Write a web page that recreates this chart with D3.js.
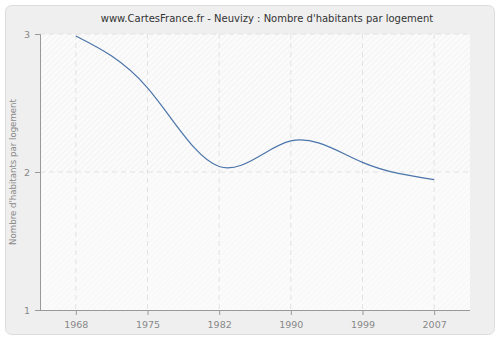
<!DOCTYPE html>
<html lang="fr">
<head>
  <meta charset="UTF-8">
  <title>Neuvizy : Nombre d'habitants par logement</title>
  <script src="https://d3js.org/d3.v7.min.js"></script>
  <style>
    body { margin: 0; background: #fff; }
    svg { display: block; font-family: "DejaVu Sans", Verdana, sans-serif; }
  </style>
</head>
<body>
<svg id="chart" width="500" height="340"></svg>
<script>
  // Données
  const annees = ["1968", "1975", "1982", "1990", "1999", "2007"];
  const habParLogement = [2.985, 2.61, 2.04, 2.225, 2.07, 1.945];
  const yTicks = [1, 2, 3];

  const margin = {top: 34, right: 30, bottom: 30, left: 40};
  const width = 500 - margin.left - margin.right;
  const height = 340 - margin.top - margin.bottom;

  const svg = d3.select("#chart");
  const defs = svg.append("defs");

  // Hachures du fond
  function hatch(id, color) {
    const p = defs.append("pattern")
      .attr("id", id)
      .attr("patternUnits", "userSpaceOnUse")
      .attr("width", 4).attr("height", 4)
      .attr("patternTransform", "rotate(45)");
    p.append("rect").attr("width", 4).attr("height", 4).attr("fill", "#fbfbfb");
    p.append("line").attr("x1", 0).attr("y1", 0).attr("x2", 0).attr("y2", 4)
      .attr("stroke", color).attr("stroke-width", 1);
  }
  hatch("hatchHaut", "#ececec");
  hatch("hatchBas", "#f3f3f3");

  // Cadre extérieur
  svg.append("rect")
    .attr("x", 5.5).attr("y", 5.5)
    .attr("width", 489).attr("height", 329)
    .attr("rx", 6)
    .attr("fill", "#efefef")
    .attr("stroke", "#dcdcdc");

  svg.append("text")
    .attr("x", 267).attr("y", 22)
    .attr("text-anchor", "middle")
    .attr("font-size", 10)
    .attr("fill", "#333")
    .text("www.CartesFrance.fr - Neuvizy : Nombre d'habitants par logement");

  const g = svg.append("g").attr("transform", `translate(${margin.left},${margin.top})`);

  const x = d3.scalePoint().domain(annees).range([0, width]).padding(0.5);
  const y = d3.scaleLinear().domain([1, 3]).range([height, 0]);

  g.append("rect").attr("width", width).attr("height", y(2))
    .attr("fill", "url(#hatchHaut)");
  g.append("rect").attr("y", y(2)).attr("width", width).attr("height", height - y(2))
    .attr("fill", "url(#hatchBas)");

  // Grille
  g.selectAll(".vgrid").data(annees).join("line")
    .attr("x1", d => x(d)).attr("x2", d => x(d))
    .attr("y1", 0).attr("y2", height)
    .attr("stroke", "#e2e2e2").attr("stroke-dasharray", "5,4");
  g.selectAll(".hgrid").data(yTicks.slice(1)).join("line")
    .attr("x1", 0).attr("x2", width)
    .attr("y1", d => y(d)).attr("y2", d => y(d))
    .attr("stroke", "#e2e2e2").attr("stroke-dasharray", "5,4");

  // Axes
  const xAxis = g.append("g").attr("transform", `translate(0,${height})`)
    .call(d3.axisBottom(x).tickSizeOuter(0).tickSize(5).tickPadding(6));
  const yAxis = g.append("g")
    .call(d3.axisLeft(y).tickValues(yTicks).tickFormat(d3.format("d")).tickSizeOuter(0).tickSize(5).tickPadding(5));
  [xAxis, yAxis].forEach(a => {
    a.select(".domain").attr("stroke", "#999");
    a.selectAll(".tick line").attr("stroke", "#999");
    a.selectAll(".tick text").attr("fill", "#888").attr("font-size", 9.5)
      .attr("font-family", "\"DejaVu Sans\", Verdana, sans-serif");
  });
  xAxis.select(".domain").attr("d", `M0,0.5H${width}`);

  svg.append("text")
    .attr("transform", `translate(16,${margin.top + y(2)}) rotate(-90)`)
    .attr("text-anchor", "middle")
    .attr("font-size", 8.6)
    .attr("fill", "#888")
    .text("Nombre d'habitants par logement");

  // Courbe
  const line = d3.line()
    .x((d, i) => x(annees[i]))
    .y(d => y(d))
    .curve(d3.curveNatural);

  g.append("path")
    .datum(habParLogement)
    .attr("fill", "none")
    .attr("stroke", "#4a74aa")
    .attr("stroke-width", 1.2)
    .attr("d", line);
</script>
</body>
</html>
